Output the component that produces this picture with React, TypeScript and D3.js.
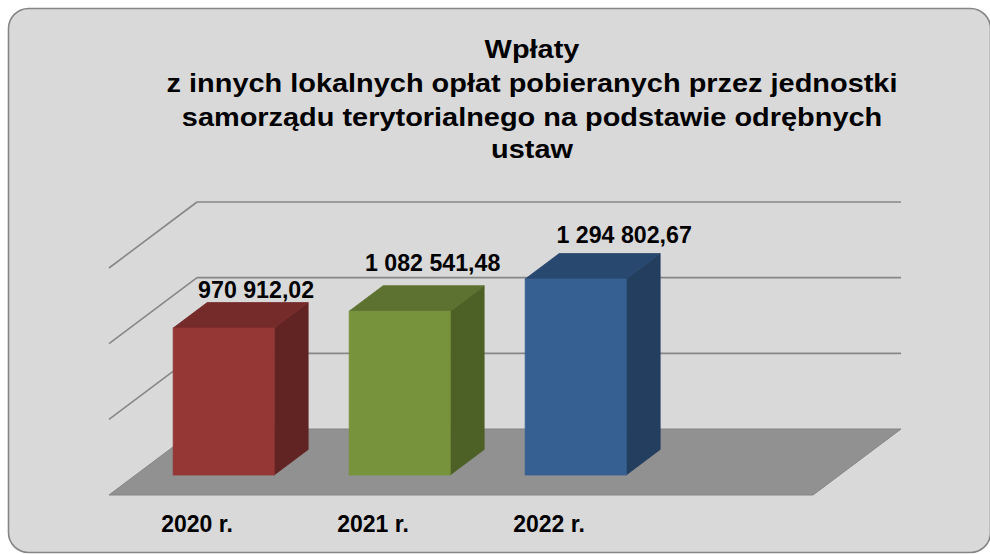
import React from "react";
import * as d3 from "d3";

const titleLines = [
  "Wpłaty",
  "z innych lokalnych opłat pobieranych przez jednostki",
  "samorządu terytorialnego na podstawie odrębnych",
  "ustaw",
];
const categories = ["2020 r.", "2021 r.", "2022 r."];
const values = [970912.02, 1082541.48, 1294802.67];
const valueLabels = ["970 912,02", "1 082 541,48", "1 294 802,67"];
const yTicks = [0, 500000, 1000000, 1500000];

const frontColors = ["#953735", "#77933c", "#376092"];
const sideColors = ["#622423", "#4d6127", "#233e5f"];
const topColors = ["#752b2a", "#5d7230", "#29486f"];

// layout
const W = 990;
const H = 554;
const floorFrontY = 495;
const depthDx = 88;
const depthDy = -66;
const floorX0 = 109;
const slot = 176;
const barFrontFrac = 0.303;
const barDepthFrac = 0.386;
const labelNudgeX = [-1.5, -1, 14.5];
const labelNudgeY = [-4.5, -14.5, -11];

export default function App() {
  const yH = d3.scaleLinear().domain([0, 1500000]).range([0, 227]);
  const x = d3
    .scaleBand<string>()
    .domain(categories)
    .range([floorX0, floorX0 + slot * categories.length])
    .paddingInner(0.426)
    .paddingOuter(0.213);
  const bw = x.bandwidth();
  const floorBackY = floorFrontY + depthDy;
  const floorX1 = floorX0 + slot * (categories.length + 1);

  const font = "'Liberation Sans', Arial, sans-serif";
  const titleCx = 532;
  const titleBaselines = [58, 92, 126, 158];

  const fdx = depthDx * barFrontFrac;
  const fdy = depthDy * barFrontFrac;
  const bdx = depthDx * barDepthFrac;
  const bdy = depthDy * barDepthFrac;

  return (
    <svg
      width={W}
      height={H}
      style={{ position: "absolute", left: 0, top: 0 }}
      fontFamily={font}
    >
      <rect x={0} y={0} width={W} height={H} fill="#ffffff" />
      <rect
        x={8.5}
        y={8.5}
        width={982}
        height={544}
        rx={20}
        ry={20}
        fill="#d9d9d9"
        stroke="#858585"
        strokeWidth={1.6}
      />
      {/* title */}
      <g transform={`translate(${titleCx},0) scale(1.13,1)`}>
        {titleLines.map((t, i) => (
          <text
            key={i}
            x={0}
            y={titleBaselines[i]}
            textAnchor="middle"
            fontSize={25.6}
            fontWeight="bold"
            fill="#000"
          >
            {t}
          </text>
        ))}
      </g>
      {/* floor */}
      <path
        d={`M${floorX0},${floorFrontY} L${floorX1},${floorFrontY} L${floorX1 + depthDx},${floorBackY} L${floorX0 + depthDx},${floorBackY} Z`}
        fill="#919191"
        stroke="#858585"
        strokeWidth={1}
      />
      {/* gridlines: back wall + left wall */}
      {yTicks
        .filter((v) => v > 0)
        .map((v) => {
          const yb = floorBackY - yH(v);
          const yf = floorFrontY - yH(v);
          return (
            <g key={v}>
              <line
                x1={floorX0 + depthDx}
                x2={floorX1 + depthDx}
                y1={yb}
                y2={yb}
                stroke="#878787"
                strokeWidth={1.6}
              />
              <line
                x1={floorX0}
                x2={floorX0 + depthDx}
                y1={yf}
                y2={yb}
                stroke="#878787"
                strokeWidth={1.6}
              />
            </g>
          );
        })}
      {/* bars */}
      {categories.map((c, i) => {
        const x0 = (x(c) as number) + fdx;
        const yBase = floorFrontY + fdy;
        const yTop = yBase - yH(values[i]);
        const x1 = x0 + bw;
        return (
          <g key={c}>
            <path
              d={`M${x1},${yTop} L${x1 + bdx},${yTop + bdy} L${x1 + bdx},${yBase + bdy} L${x1},${yBase} Z`}
              fill={sideColors[i]}
              stroke={sideColors[i]}
              strokeWidth={0.8}
            />
            <path
              d={`M${x0},${yTop} L${x1},${yTop} L${x1 + bdx},${yTop + bdy} L${x0 + bdx},${yTop + bdy} Z`}
              fill={topColors[i]}
              stroke={topColors[i]}
              strokeWidth={0.8}
            />
            <rect
              x={x0}
              y={yTop}
              width={bw}
              height={yBase - yTop}
              fill={frontColors[i]}
              stroke={frontColors[i]}
              strokeWidth={0.8}
            />
            <text
              x={x0 + bw / 2 + bdx + labelNudgeX[i]}
              y={yTop + bdy + labelNudgeY[i]}
              textAnchor="middle"
              fontSize={23.2}
              fontWeight="bold"
              fill="#000"
            >
              {valueLabels[i]}
            </text>
          </g>
        );
      })}
      {/* category labels */}
      {categories.map((c) => (
        <text
          key={c}
          x={(x(c) as number) + bw / 2}
          y={532}
          textAnchor="middle"
          fontSize={23}
          fontWeight="bold"
          fill="#000"
        >
          {c}
        </text>
      ))}
    </svg>
  );
}
